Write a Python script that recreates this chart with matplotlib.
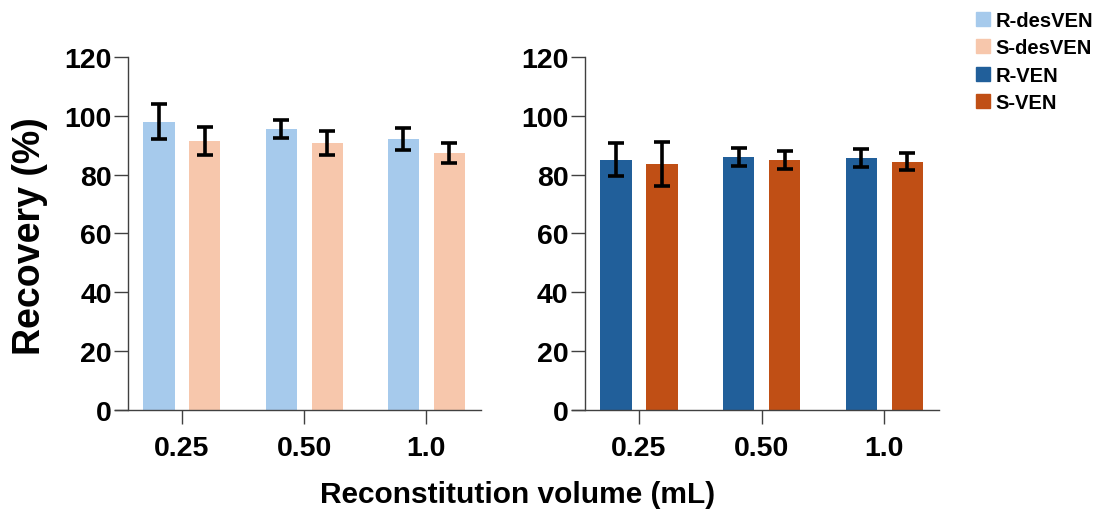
import numpy as np
import matplotlib.pyplot as plt
from matplotlib.patches import Patch

plt.rcParams['font.family'] = ['Liberation Sans', 'DejaVu Sans']
plt.rcParams['font.weight'] = 'bold'

# Datos
volumes = ['0.25', '0.50', '1.0']
r_desven = [98.0, 95.5, 92.2]
r_desven_err = [6.0, 3.2, 3.7]
s_desven = [91.5, 90.8, 87.4]
s_desven_err = [4.8, 4.0, 3.4]
r_ven = [85.0, 86.0, 85.7]
r_ven_err = [5.6, 3.0, 3.1]
s_ven = [83.5, 85.0, 84.4]
s_ven_err = [7.5, 3.2, 2.9]

c_rdes = '#A6CAEC'
c_sdes = '#F7C7AC'
c_rven = '#215F9A'
c_sven = '#C04F15'

fig = plt.figure(figsize=(10.98, 5.10), dpi=100)
ax1 = fig.add_axes([0.1047, 0.1941, 0.3333, 0.6922])
ax2 = fig.add_axes([0.5207, 0.1941, 0.3347, 0.6922])

x = np.arange(len(volumes))
w = 0.255
off = 0.188
err_kw = dict(ecolor='black', elinewidth=2.6, capsize=5.8, capthick=2.6)


def panel(ax, a, a_err, ca, b, b_err, cb):
    ax.bar(x - off, a, w, color=ca, yerr=a_err, error_kw=err_kw, zorder=2)
    ax.bar(x + off, b, w, color=cb, yerr=b_err, error_kw=err_kw, zorder=2)
    ax.set_xlim(-0.548, 2.447)
    ax.set_ylim(0, 120)
    ax.set_yticks(range(0, 121, 20))
    ax.set_xticks(x)
    ax.set_xticklabels(volumes)
    ax.spines['top'].set_visible(False)
    ax.spines['right'].set_visible(False)
    ax.spines['left'].set_position(('data', -0.438))
    for s in ('left', 'bottom'):
        ax.spines[s].set_color('#404040')
        ax.spines[s].set_linewidth(1.0)
    ax.tick_params(axis='y', length=10, width=1.0, color='#404040',
                   labelsize=20.5, pad=2)
    ax.tick_params(axis='x', length=10, width=1.0, color='#404040',
                   labelsize=20.5, pad=8)
    for lab in ax.get_xticklabels() + ax.get_yticklabels():
        lab.set_fontweight('bold')


panel(ax1, r_desven, r_desven_err, c_rdes, s_desven, s_desven_err, c_sdes)
panel(ax2, r_ven, r_ven_err, c_rven, s_ven, s_ven_err, c_sven)

fig.text(0.027, 0.537, 'Recovery (%)', rotation=90, ha='center', va='center',
         fontsize=27, fontweight='bold')
fig.text(0.471, 0.03, 'Reconstitution volume (mL)', ha='center', va='center',
         fontsize=21.5, fontweight='bold')

handles = [Patch(color=c_rdes, label='R-desVEN'),
           Patch(color=c_sdes, label='S-desVEN'),
           Patch(color=c_rven, label='R-VEN'),
           Patch(color=c_sven, label='S-VEN')]
fig.legend(handles=handles, loc='upper left', bbox_to_anchor=(0.872, 1.012),
           frameon=False, handlelength=0.7, handleheight=0.7,
           handletextpad=0.3, labelspacing=0.42,
           prop={'weight': 'bold', 'size': 14.5})

fig.savefig('out.png', dpi=100)
